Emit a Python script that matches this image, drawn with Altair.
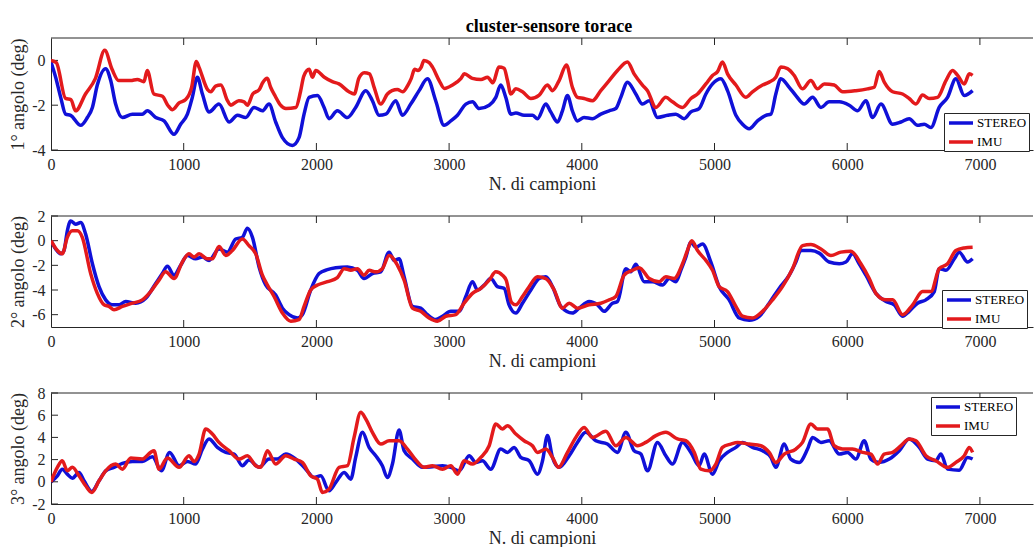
import altair as alt
import pandas as pd

FONT = "Liberation Serif"
AX = "#262626"
BLUE = "#1010D8"
RED = "#E31A1C"

X_TICKS = [0, 1000, 2000, 3000, 4000, 5000, 6000, 7000]
X_DOMAIN = [0, 7400]
SERIES = ["STEREO", "IMU"]

P1_Y_TICKS = [-4, -2, 0]
P2_Y_TICKS = [-6, -4, -2, 0, 2]
P3_Y_TICKS = [-2, 0, 2, 4, 6, 8]

P1_STEREO = [(0,-0.07),(35,-0.75),(73,-1.65),(110,-2.4),(148,-2.45),(224,-2.9),(274,-2.55),(312,-2.1),(349,-1.1),(412,-0.37),(450,-0.9),(487,-1.95),(538,-2.55),(613,-2.4),(688,-2.4),(726,-2.25),(789,-2.55),(852,-2.7),(927,-3.3),(977,-2.85),(1028,-2.4),(1065,-1.65),(1103,-0.75),(1141,-1.5),(1191,-2.3),(1266,-1.95),(1342,-2.75),(1405,-2.45),(1467,-2.55),(1530,-2.1),(1593,-2.25),(1643,-1.95),(1693,-2.75),(1744,-3.45),(1819,-3.8),(1869,-3.45),(1907,-2.4),(1945,-1.65),(2008,-1.57),(2058,-2.1),(2095,-2.6),(2158,-2.25),(2234,-2.55),(2296,-2.1),(2372,-1.35),(2422,-1.8),(2472,-2.45),(2523,-2.4),(2598,-1.8),(2648,-2.45),(2711,-1.95),(2774,-1.35),(2837,-0.82),(2899,-1.8),(2962,-2.9),(3013,-2.7),(3063,-2.45),(3126,-1.95),(3176,-1.85),(3226,-2.15),(3302,-2.0),(3352,-1.65),(3389,-1.1),(3427,-1.65),(3465,-2.4),(3503,-2.35),(3565,-2.45),(3628,-2.45),(3666,-2.6),(3729,-1.95),(3766,-2.3),(3817,-2.75),(3854,-2.25),(3892,-1.57),(3929,-2.25),(3967,-2.7),(4017,-2.55),(4080,-2.6),(4143,-2.4),(4206,-2.25),(4256,-2.15),(4294,-1.65),(4344,-0.97),(4407,-1.5),(4457,-1.95),(4508,-1.8),(4570,-2.55),(4646,-2.45),(4709,-2.4),(4771,-2.6),(4822,-2.3),(4884,-2.15),(4935,-1.5),(4985,-1.05),(5048,-0.82),(5098,-1.35),(5161,-2.45),(5211,-2.85),(5261,-3.05),(5324,-2.7),(5387,-2.45),(5425,-2.4),(5462,-1.5),(5500,-0.82),(5563,-1.2),(5613,-1.57),(5676,-1.95),(5739,-1.65),(5802,-2.1),(5864,-1.85),(5940,-1.85),(6015,-2.0),(6078,-2.25),(6141,-1.8),(6191,-2.55),(6254,-1.95),(6342,-2.85),(6405,-2.75),(6467,-2.6),(6530,-2.9),(6580,-2.85),(6631,-3.0),(6693,-2.1),(6756,-1.65),(6819,-0.82),(6882,-1.57),(6945,-1.35)]

P1_IMU = [(0,0.0),(40,-0.1),(110,-1.7),(150,-1.75),(185,-2.25),(260,-1.5),(335,-0.8),(405,0.45),(460,-0.4),(510,-0.9),(600,-0.9),(650,-0.85),(700,-0.95),(725,-0.45),(775,-1.5),(840,-1.6),(880,-2.0),(915,-2.2),(965,-1.9),(1015,-1.75),(1060,-1.2),(1095,-0.05),(1115,-0.3),(1180,-1.3),(1205,-1.4),(1240,-1.15),(1280,-1.1),(1330,-1.8),(1355,-2.0),(1415,-1.8),(1455,-1.85),(1480,-2.0),(1520,-1.5),(1570,-1.3),(1595,-1.0),(1630,-0.8),(1655,-1.2),(1690,-1.6),(1730,-2.0),(1770,-2.15),(1845,-2.1),(1880,-1.4),(1905,-0.7),(1945,-0.4),(1970,-0.75),(1995,-0.45),(2060,-0.75),(2120,-0.95),(2170,-1.05),(2245,-1.4),(2285,-1.5),(2320,-0.8),(2360,-0.55),(2400,-0.6),(2435,-1.2),(2485,-1.95),(2535,-1.5),(2570,-1.35),(2610,-1.3),(2650,-1.4),(2690,-1.1),(2715,-0.8),(2740,-0.4),(2765,-0.45),(2790,-0.3),(2810,0.0),(2850,-0.1),(2875,-0.3),(2925,-0.9),(2965,-1.25),(3025,-1.1),(3090,-0.8),(3115,-0.6),(3175,-0.8),(3240,-0.85),(3290,-0.75),(3330,-1.0),(3375,-0.3),(3415,-0.35),(3440,-0.9),(3465,-1.5),(3503,-1.27),(3553,-1.4),(3616,-1.7),(3679,-1.55),(3741,-1.1),(3779,-1.35),(3829,-0.9),(3884,-0.2),(3929,-1.2),(3967,-1.65),(4017,-1.7),(4080,-1.8),(4143,-1.35),(4206,-0.9),(4269,-0.45),(4344,-0.07),(4394,-0.6),(4457,-1.1),(4495,-1.35),(4558,-2.1),(4633,-1.65),(4683,-1.85),(4759,-2.1),(4822,-1.7),(4872,-1.5),(4935,-1.05),(4985,-0.67),(5023,-0.5),(5060,-0.07),(5098,-0.6),(5161,-1.1),(5236,-1.65),(5286,-1.4),(5362,-1.1),(5412,-0.97),(5462,-0.75),(5500,-0.3),(5550,-0.37),(5600,-0.67),(5663,-1.27),(5726,-0.9),(5776,-1.27),(5827,-1.05),(5902,-1.1),(5965,-1.4),(6065,-1.35),(6153,-1.27),(6203,-1.2),(6241,-0.5),(6279,-0.97),(6342,-1.4),(6417,-1.5),(6467,-1.7),(6518,-1.95),(6568,-1.55),(6618,-1.7),(6681,-1.65),(6744,-0.9),(6794,-0.45),(6832,-0.67),(6882,-1.05),(6920,-0.6),(6945,-0.67)]

P2_STEREO = [(0,0.0),(35,-0.67),(73,-1.07),(98,-0.8),(123,0.8),(148,1.6),(186,1.33),(224,1.47),(261,0.53),(312,-1.87),(362,-3.73),(412,-4.8),(462,-5.2),(513,-5.2),(563,-4.93),(638,-5.07),(714,-4.67),(789,-3.47),(839,-2.67),(877,-2.08),(927,-2.8),(977,-2.0),(1028,-1.2),(1090,-1.47),(1141,-1.33),(1191,-1.6),(1266,-0.67),(1329,-0.93),(1392,0.13),(1442,0.27),(1480,1.0),(1518,0.27),(1568,-2.13),(1618,-3.6),(1693,-4.4),(1744,-5.47),(1794,-6.0),(1857,-6.27),(1894,-6.0),(1957,-4.0),(2020,-2.67),(2083,-2.35),(2146,-2.2),(2234,-2.13),(2309,-2.4),(2359,-3.07),(2422,-2.67),(2485,-2.53),(2548,-0.93),(2586,-1.6),(2623,-1.47),(2661,-2.93),(2724,-5.33),(2786,-5.47),(2837,-6.0),(2899,-6.4),(2950,-6.13),(3013,-5.73),(3076,-5.73),(3126,-4.53),(3176,-3.33),(3214,-4.0),(3264,-3.6),(3314,-3.07),(3364,-3.73),(3415,-3.87),(3452,-5.2),(3503,-5.87),(3553,-5.07),(3616,-4.0),(3679,-3.07),(3729,-2.93),(3779,-3.73),(3842,-5.33),(3929,-5.87),(3980,-5.47),(4055,-4.93),(4118,-5.2),(4168,-5.73),(4231,-5.07),(4269,-4.93),(4332,-2.27),(4369,-2.53),(4407,-1.92),(4470,-3.33),(4533,-3.33),(4608,-3.6),(4658,-3.07),(4709,-3.33),(4746,-2.4),(4784,-1.33),(4822,-0.13),(4859,-0.53),(4910,-0.27),(4972,-1.73),(5035,-3.73),(5110,-4.8),(5186,-6.27),(5261,-6.45),(5337,-6.13),(5412,-5.07),(5487,-3.87),(5563,-2.8),(5613,-1.73),(5651,-0.8),(5726,-0.8),(5789,-1.01),(5864,-1.73),(5940,-1.87),(5990,-1.73),(6040,-1.07),(6090,-1.87),(6141,-2.8),(6216,-4.27),(6292,-4.93),(6354,-5.2),(6417,-6.13),(6467,-5.73),(6530,-5.07),(6593,-4.8),(6656,-4.13),(6693,-2.27),(6744,-2.4),(6807,-1.47),(6844,-0.93),(6907,-1.73),(6945,-1.47)]

P2_IMU = [(0,0.0),(48,-0.8),(85,-1.07),(123,0.27),(161,0.8),(199,0.8),(236,0.27),(299,-2.67),(349,-4.27),(400,-5.2),(437,-5.33),(475,-5.6),(538,-5.33),(613,-5.07),(688,-4.8),(751,-4.13),(814,-3.2),(864,-2.53),(927,-3.07),(990,-1.73),(1040,-1.07),(1078,-1.33),(1116,-1.07),(1178,-1.47),(1216,-1.47),(1266,-0.48),(1317,-1.2),(1367,-0.8),(1442,0.13),(1492,-0.4),(1543,-1.07),(1593,-2.8),(1631,-3.6),(1681,-4.53),(1744,-5.87),(1807,-6.53),(1869,-6.4),(1907,-5.33),(1957,-4.0),(2008,-3.6),(2083,-3.33),(2158,-2.99),(2209,-2.27),(2259,-2.4),(2309,-2.27),(2359,-2.8),(2397,-2.4),(2447,-2.53),(2497,-2.27),(2548,-1.2),(2611,-2.0),(2661,-3.2),(2724,-5.47),(2786,-5.73),(2849,-6.27),(2912,-6.53),(2975,-6.13),(3050,-6.0),(3113,-5.07),(3176,-4.27),(3239,-3.87),(3302,-3.2),(3352,-2.53),(3402,-2.8),(3430,-3.2),(3470,-5.0),(3503,-5.2),(3553,-4.53),(3603,-3.73),(3666,-2.93),(3729,-3.07),(3792,-4.0),(3854,-5.47),(3905,-5.07),(3967,-5.47),(4055,-5.2),(4143,-5.07),(4206,-4.8),(4256,-4.53),(4319,-2.8),(4382,-2.4),(4432,-2.19),(4508,-3.07),(4583,-3.33),(4633,-2.93),(4696,-3.07),(4759,-1.87),(4796,-0.8),(4829,0.0),(4872,-0.8),(4935,-1.6),(4985,-2.4),(5035,-3.73),(5098,-4.13),(5161,-5.33),(5211,-6.13),(5286,-6.27),(5362,-5.73),(5437,-4.8),(5512,-3.73),(5588,-2.27),(5663,-0.4),(5726,-0.32),(5802,-0.67),(5877,-1.2),(5952,-0.93),(6028,-0.85),(6103,-1.87),(6166,-3.07),(6216,-4.27),(6292,-4.8),(6342,-4.8),(6417,-6.0),(6493,-5.2),(6568,-4.13),(6631,-4.13),(6693,-2.27),(6756,-1.87),(6819,-0.8),(6882,-0.59),(6945,-0.53)]

P3_STEREO = [(0,0.0),(48,0.54),(85,1.14),(123,0.69),(161,0.33),(211,0.84),(249,0.09),(307,-0.87),(362,0.09),(412,0.99),(475,1.3),(538,1.66),(613,1.84),(688,1.84),(764,2.26),(832,0.99),(894,2.65),(965,1.45),(1028,1.84),(1090,1.6),(1141,2.95),(1191,3.86),(1254,3.1),(1317,2.65),(1380,2.5),(1442,1.45),(1492,1.96),(1568,1.3),(1643,2.05),(1706,2.05),(1769,2.5),(1844,2.05),(1920,1.14),(1982,0.39),(2033,0.54),(2095,-0.81),(2146,-0.06),(2209,0.84),(2259,0.24),(2296,2.2),(2347,4.46),(2397,3.1),(2447,2.35),(2497,1.45),(2535,0.39),(2573,1.6),(2623,4.67),(2661,2.8),(2724,2.05),(2799,1.3),(2874,1.36),(2950,1.45),(3013,1.3),(3076,0.99),(3151,2.35),(3201,1.75),(3251,1.9),(3314,1.14),(3389,2.95),(3440,2.65),(3490,3.1),(3540,2.2),(3603,1.9),(3666,0.69),(3704,1.9),(3741,4.16),(3779,2.2),(3829,1.3),(3905,2.35),(3967,3.55),(4030,4.46),(4106,3.7),(4193,3.4),(4269,2.65),(4332,4.46),(4394,2.8),(4445,2.5),(4495,0.99),(4570,3.55),(4633,2.35),(4683,1.6),(4759,3.55),(4822,2.65),(4884,1.45),(4922,2.5),(4985,0.69),(5035,1.9),(5098,2.65),(5161,3.1),(5211,3.55),(5286,3.1),(5362,2.8),(5425,2.2),(5462,1.3),(5525,3.4),(5575,2.05),(5638,1.75),(5701,2.95),(5739,4.0),(5802,3.55),(5864,3.7),(5940,2.5),(6003,2.65),(6065,2.05),(6128,3.7),(6178,2.05),(6241,1.75),(6317,2.05),(6392,2.8),(6467,3.86),(6543,3.1),(6606,2.05),(6668,1.9),(6706,2.5),(6756,1.14),(6844,1.05),(6907,2.2),(6945,2.05)]

P3_IMU = [(0,0.0),(48,1.3),(85,1.9),(123,0.99),(161,1.3),(211,0.54),(261,-0.36),(307,-0.96),(362,0.09),(412,0.99),(487,1.6),(538,1.14),(601,2.14),(688,2.05),(751,2.65),(776,2.8),(814,1.14),(877,2.14),(965,1.3),(1040,2.35),(1078,1.84),(1116,2.5),(1166,4.76),(1216,4.3),(1266,3.55),(1342,2.8),(1417,2.05),(1480,2.35),(1543,1.45),(1580,1.3),(1631,2.8),(1693,1.6),(1769,2.35),(1832,2.05),(1894,1.75),(1957,0.54),(2008,0.24),(2045,-0.96),(2095,-0.66),(2171,1.3),(2234,1.45),(2284,4.0),(2334,6.27),(2372,5.66),(2422,4.46),(2485,3.4),(2548,3.7),(2623,3.7),(2686,2.95),(2749,1.96),(2812,1.3),(2874,1.45),(2950,1.14),(3013,1.45),(3063,0.69),(3113,1.9),(3176,1.6),(3239,2.2),(3302,3.25),(3352,5.21),(3402,4.76),(3440,5.06),(3503,4.3),(3565,3.7),(3628,3.25),(3666,2.65),(3729,2.95),(3779,2.2),(3824,1.3),(3892,2.65),(3955,4.0),(4017,4.9),(4080,4.0),(4181,4.55),(4256,3.25),(4332,4.0),(4420,3.25),(4482,3.55),(4558,4.16),(4633,4.46),(4721,3.86),(4784,3.7),(4847,2.65),(4897,1.14),(4960,0.99),(5010,1.6),(5060,3.1),(5123,3.4),(5173,3.55),(5261,3.4),(5349,3.25),(5412,2.65),(5462,1.75),(5525,2.5),(5613,2.95),(5663,3.55),(5726,5.21),(5776,4.76),(5852,4.76),(5902,3.25),(5965,2.95),(6040,2.95),(6116,2.65),(6178,2.5),(6229,1.6),(6279,2.5),(6342,2.65),(6405,3.25),(6467,3.86),(6518,3.7),(6593,2.35),(6668,1.9),(6756,1.3),(6819,1.75),(6882,2.35),(6920,3.1),(6945,2.65)]

W = 982
TICK = 7


def series_df(pairs, name):
    return pd.DataFrame({"x": [p[0] for p in pairs], "y": [p[1] for p in pairs], "serie": name})


def panel(stereo, imu, ydom, yticks, ytitle, H, lx, ly):
    xs = alt.Scale(domain=X_DOMAIN, nice=False, zero=False)
    ys = alt.Scale(domain=ydom, nice=False, zero=False)
    cscale = alt.Scale(domain=SERIES, range=[BLUE, RED])
    legend = alt.Legend(
        title=None, orient="none", legendX=lx, legendY=ly,
        strokeColor=AX, fillColor="white", padding=2,
        symbolType="M-2,0H2", symbolSize=144, symbolStrokeWidth=3.5,
        symbolOffset=7, labelOffset=8, rowPadding=4,
        labelFont=FONT, labelFontSize=13, labelColor="black",
    )
    xaxis = alt.Axis(values=X_TICKS, title="N. di campioni", labelFlush=False,
                     labelExpr="'' + datum.value", labelPadding=6, titlePadding=3,
                     ticks=False, domain=True, grid=False)
    yaxis = alt.Axis(values=yticks, title=ytitle, labelExpr="'' + datum.value",
                     labelPadding=6, titlePadding=4, ticks=False, domain=True, grid=False)

    blue = alt.Chart(series_df(stereo, "STEREO")).mark_line(
        strokeWidth=3.5, interpolate="monotone", clip=True
    ).encode(
        x=alt.X("x:Q", scale=xs, axis=xaxis),
        y=alt.Y("y:Q", scale=ys, axis=yaxis),
        color=alt.Color("serie:N", scale=cscale, legend=legend),
    )
    red = alt.Chart(series_df(imu, "IMU")).mark_line(
        strokeWidth=3.5, interpolate="monotone", clip=True
    ).encode(
        x=alt.X("x:Q", scale=xs, axis=xaxis),
        y=alt.Y("y:Q", scale=ys, axis=yaxis),
        color=alt.Color("serie:N", scale=cscale, legend=legend),
    )
    xt = pd.DataFrame({"x": X_TICKS[1:]})
    yt = pd.DataFrame({"y": yticks})
    bot_ticks = alt.Chart(xt).mark_rule(color=AX, strokeWidth=1).encode(
        x=alt.X("x:Q", scale=xs, axis=xaxis), y=alt.value(H), y2=alt.value(H - TICK))
    top_ticks = alt.Chart(xt).mark_rule(color=AX, strokeWidth=1).encode(
        x=alt.X("x:Q", scale=xs, axis=xaxis), y=alt.value(0), y2=alt.value(TICK))
    left_ticks = alt.Chart(yt).mark_rule(color=AX, strokeWidth=1).encode(
        y=alt.Y("y:Q", scale=ys, axis=yaxis), x=alt.value(0), x2=alt.value(TICK))
    top_border = alt.Chart(pd.DataFrame({"k": [0]})).mark_rule(color=AX, strokeWidth=1).encode(
        x=alt.value(0), x2=alt.value(W), y=alt.value(0))
    return alt.layer(blue, bot_ticks, top_ticks, left_ticks, top_border, red).properties(
        width=W, height=H)


p1 = panel(P1_STEREO, P1_IMU, [-4, 1], P1_Y_TICKS, "1° angolo (deg)", 112, 893, 75)
p2 = panel(P2_STEREO, P2_IMU, [-7, 2], P2_Y_TICKS, "2° angolo (deg)", 111, 891, 74)
p3 = panel(P3_STEREO, P3_IMU, [-2, 8], P3_Y_TICKS, "3° angolo (deg)", 111, 880, 4)

chart = alt.vconcat(p1, p2, p3, spacing=66, bounds="flush").resolve_legend(
    color="independent"
).resolve_scale(color="independent").properties(
    title=alt.Title("cluster-sensore torace", font=FONT, fontSize=18, fontWeight="bold",
                    color="black", anchor="middle", frame="group", dx=7, offset=2),
    padding={"left": 9, "top": 17, "right": 0, "bottom": 0},
).configure_view(stroke=None).configure_axis(
    domainColor=AX, domainWidth=1,
    labelFont=FONT, labelFontSize=16, labelColor=AX,
    titleFont=FONT, titleFontSize=18, titleColor=AX, titleFontWeight="normal",
)

chart.save("out.html", embed_options={"renderer": "svg", "actions": False})
